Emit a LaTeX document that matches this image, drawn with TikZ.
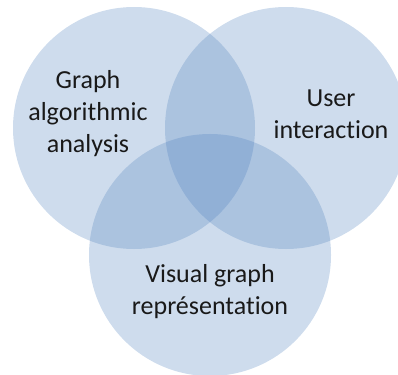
\documentclass[tikz,border=0pt]{standalone}
\usepackage{fontspec}
\setmainfont{Carlito}[Ligatures={NoCommon}]
\usepackage{tikz}
\definecolor{vennblue}{RGB}{79,129,189}
\tikzstyle{set} = [circle, minimum size=242pt, inner sep=0pt, fill=vennblue, fill opacity=0.28, draw=none]
\tikzstyle{setlabel} = [text centered, align=center, font=\fontsize{26}{32}\selectfont, text=black!90]

\begin{document}
\begin{tikzpicture}[x=1pt, y=-1pt]
\useasboundingbox (0,0) rectangle (398,374);
\node (algo) [set] at (134,128) {};
\node (user) [set] at (286,128) {};
\node (visual) [set] at (210,255) {};

\node (algotext) [setlabel] at (88,114) {Graph\\algorithmic\\analysis};
\node (usertext) [setlabel] at (331,114) {User\\interaction};
\node (visualtext) [setlabel] at (210,292) {Visual graph\\représentation};
\end{tikzpicture}
\end{document}
